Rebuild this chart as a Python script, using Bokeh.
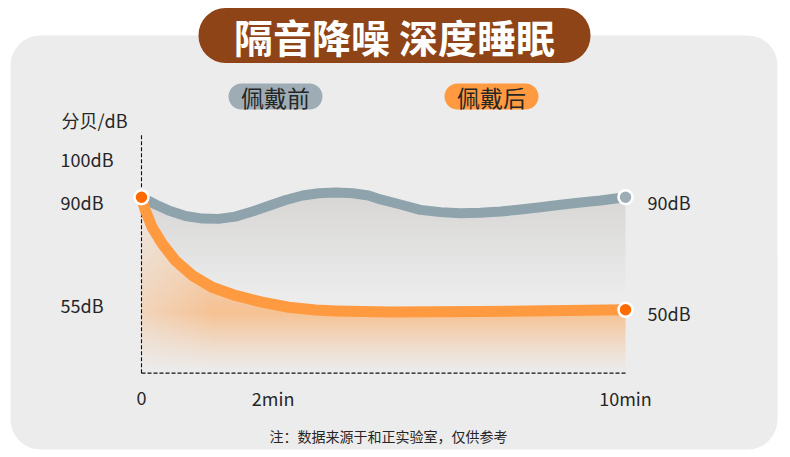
import numpy as np
from bokeh.plotting import figure
from bokeh.models import Range1d
from bokeh.core.properties import value
from bokeh.embed import file_html
from bokeh.resources import INLINE

# ---------------- data ----------------
title_text = "隔音降噪 深度睡眠"
series_names = ["佩戴前", "佩戴后"]
unit_label = "分贝/dB"
note_text = "注：数据来源于和正实验室，仅供参考"

# before wearing (gray curve): time position, dB
before_t = [0.0, 0.29, 0.56, 0.91, 1.26, 1.59, 1.94, 2.29, 2.62, 2.98, 3.33, 3.66, 4.01,
            4.36, 4.69, 4.94, 5.35, 5.76, 6.18, 6.59, 7.00, 7.42, 7.83, 8.24, 8.66,
            9.07, 9.48, 10.0]
before_db = [90.0, 87.4, 85.3, 83.3, 82.4, 82.3, 83.1, 84.9, 86.9, 89.0, 90.6, 91.4, 91.7,
             91.4, 90.6, 89.2, 87.4, 85.5, 84.7, 84.3, 84.5, 84.9, 85.6, 86.4, 87.3,
             88.1, 88.8, 90.0]

# after wearing (orange curve)
after_t = [0.0, 0.08, 0.22, 0.43, 0.70, 1.05, 1.46, 1.94, 2.49, 3.04, 3.60, 4.01,
           5.14, 7.00, 10.0]
after_db = [90.0, 85.3, 79.3, 73.4, 67.5, 62.2, 58.0, 55.1, 52.7, 50.9, 49.9, 49.6,
            49.2, 49.4, 50.0]

x_tick_pos = [0, 2.72, 10]
x_tick_labels = ["0", "2min", "10min"]
y_tick_pos = [103.6, 88.4, 51.6]
y_tick_labels = ["100dB", "90dB", "55dB"]
end_labels = ["90dB", "50dB"]

axis_floor_db = 27.5
axis_top_db = 112.0
axis_end_t = 10.0

# ---------------- colours / fonts ----------------
FONT = value("Noto Sans CJK SC")
TXT = "#262626"
PANEL = "#ececec"
BROWN = "#8f4418"
GRAY_LINE = "#8fa3ad"
GRAY_DOT = "#9dadb5"
GRAY_PILL = "#9eadb5"
ORANGE_LINE = "#ff9a40"
ORANGE_DOT = "#ff6b00"

# pixel <-> data calibration of the reference layout
PX_PER_MIN = 48.4
X0 = 141.0
PX_PER_DB = 2.815
Y90 = 196.7


def t_at(X):
    return (X - X0) / PX_PER_MIN


def db_at(Y):
    return 90 - (Y - Y90) / PX_PER_DB


W, H = 790, 457
p = figure(width=W, height=H, output_backend="svg", toolbar_location=None,
           x_range=Range1d(0, W), y_range=Range1d(-H, 0),
           x_axis_type=None, y_axis_type=None, min_border=0)
p.outline_line_color = None
p.background_fill_color = "white"
p.border_fill_color = "white"
p.grid.visible = False
p.extra_x_ranges = {"t": Range1d(t_at(0), t_at(W))}
p.extra_y_ranges = {"db": Range1d(db_at(H), db_at(0))}

# panel
p.quad(left=[10], right=[777], top=[-35], bottom=[-449], fill_color=PANEL,
       line_color=None, border_radius=30)

# title pill
p.quad(left=[198], right=[590], top=[-7.5], bottom=[-62.5], fill_color=BROWN,
       line_color=None, border_radius=27)
p.text(x=[394], y=[-35], text=[title_text], text_align="center", text_baseline="middle",
       text_font=FONT, text_font_style="bold", text_font_size="39px", text_color="white")

# legend pills
pill_left = [228, 444]
pill_colors = [GRAY_PILL, ORANGE_LINE]
for lx, col, name in zip(pill_left, pill_colors, series_names):
    p.quad(left=[lx], right=[lx + 94], top=[-83], bottom=[-109], fill_color=col,
           line_color=None, border_radius=13)
    p.text(x=[lx + 47], y=[-96.5], text=[name], text_align="center", text_baseline="middle",
           text_font=FONT, text_font_size="23px", text_color=TXT)

# gradient fills (texture computed from the series)
iw, ih = 484, 190
db_hi = 95.0
tc = (np.arange(iw) + 0.5) * axis_end_t / iw
dc = axis_floor_db + (np.arange(ih) + 0.5) * (db_hi - axis_floor_db) / ih
T, D = np.meshgrid(tc, dc)
g_top = np.interp(T, before_t, before_db)
o_top = np.interp(T, after_t, after_db)

rgba = np.zeros((ih, iw, 4), dtype=np.float64)
gmask = (D <= g_top) & (D >= o_top)
ga = 0.6 * np.clip((D - 55) / (92 - 55), 0, 1)
omask = D <= o_top
below = np.clip((D - axis_floor_db) / (49 - axis_floor_db), 0, 1) ** 1.2
above = np.clip(1 - (D - 49) / 50, 0, 1)
fv = np.where(D < 49, below, above)
fh = 0.55 + 0.45 * np.clip(T / 1.5, 0, 1)
oa = 0.52 * fv * fh

rgba[..., 0] = np.where(gmask, 200, 255)
rgba[..., 1] = np.where(gmask, 198, 154)
rgba[..., 2] = np.where(gmask, 196, 64)
rgba[..., 3] = np.where(gmask, ga, np.where(omask, oa, 0)) * 255

img = np.empty((ih, iw), dtype=np.uint32)
view = img.view(dtype=np.uint8).reshape((ih, iw, 4))
view[:] = np.clip(rgba, 0, 255).astype(np.uint8)
p.image_rgba(image=[img], x=0, y=axis_floor_db, dw=axis_end_t, dh=db_hi - axis_floor_db,
             x_range_name="t", y_range_name="db")

# dashed axes
p.segment(x0=[0, 0], y0=[axis_top_db, axis_floor_db], x1=[0, axis_end_t],
          y1=[axis_floor_db, axis_floor_db], line_color="#111111", line_width=1.1,
          line_dash="4 2", x_range_name="t", y_range_name="db")

# lines
p.line(before_t, before_db, line_width=10, line_color=GRAY_LINE, line_cap="round",
       line_join="round", x_range_name="t", y_range_name="db")
p.line(after_t, after_db, line_width=11, line_color=ORANGE_LINE, line_cap="round",
       line_join="round", x_range_name="t", y_range_name="db")

# dots
p.scatter(x=[before_t[-1]], y=[before_db[-1]], size=14, fill_color=GRAY_DOT,
          line_color="white", line_width=2.5, x_range_name="t", y_range_name="db")
p.scatter(x=[after_t[0], after_t[-1]], y=[after_db[0], after_db[-1]], size=14,
          fill_color=ORANGE_DOT, line_color="white", line_width=2.5,
          x_range_name="t", y_range_name="db")

# axis texts
p.text(x=[61], y=[-119], text=[unit_label], text_align="left", text_baseline="middle",
       text_font=FONT, text_font_size="18px", text_color=TXT)
p.text(x=[60] * len(y_tick_pos), y=y_tick_pos, text=y_tick_labels, text_align="left",
       text_baseline="middle", text_font=FONT, text_font_size="18px", text_color=TXT,
       y_range_name="db")
p.text(x=x_tick_pos, y=[-397.5] * len(x_tick_pos), text=x_tick_labels, text_align="center",
       text_baseline="middle", text_font=FONT, text_font_size="18px", text_color=TXT,
       x_range_name="t")
p.text(x=[t_at(647)] * 2, y=[before_db[-1] - 1.6, after_db[-1] - 1.1], text=end_labels,
       text_align="left", text_baseline="middle", text_font=FONT, text_font_size="18px",
       text_color=TXT, x_range_name="t", y_range_name="db")

# note
p.text(x=[388], y=[-435], text=[note_text], text_align="center", text_baseline="middle",
       text_font=FONT, text_font_size="14px", text_color=TXT)

open("out.html", "w").write(file_html(p, INLINE))
